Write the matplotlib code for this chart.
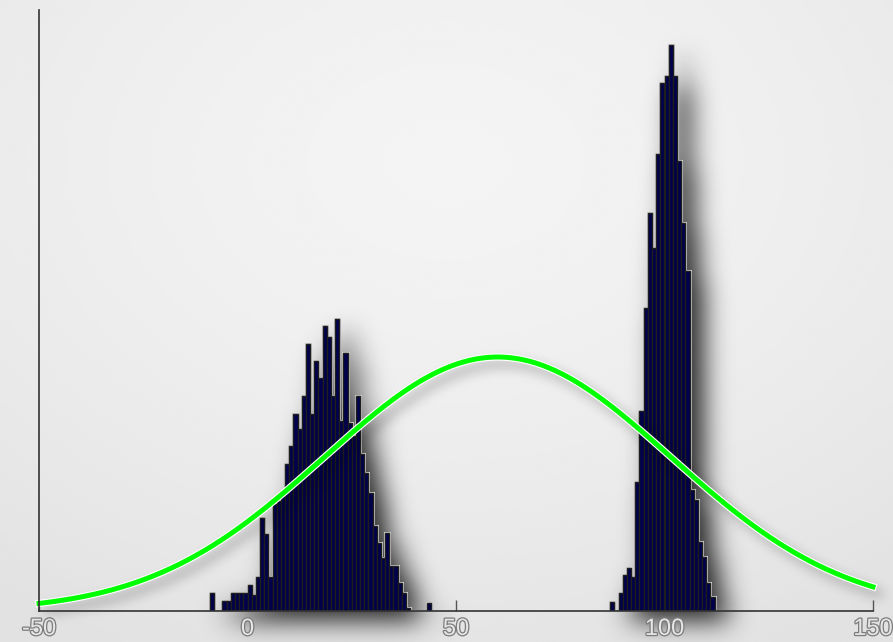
import numpy as np
import matplotlib
matplotlib.use("Agg")
import matplotlib.pyplot as plt
import matplotlib.patheffects as pe

# histogram bins (left edge, width 1) and counts
left_bins = np.arange(-9, 44)
left_counts = [18, 0, 0, 10, 10, 18, 18, 18, 18,
               26, 16, 34, 93, 77, 34, 107, 110, 115, 147,
               165, 197, 182, 215, 267, 197, 250, 233, 285, 274,
               215, 292, 190, 258, 188, 175, 215, 157, 138, 118,
               85, 68, 53, 78, 45, 45, 28, 18, 3, 0,
               0, 0, 0, 8]
right_bins = np.arange(87, 112)
right_counts = [9, 0, 18, 36, 43, 34, 129, 200, 303, 398,
                363, 457, 528, 535, 566, 535, 450, 388, 340, 121,
                111, 69, 54, 28, 14]

# fitted normal curve
fit_mean = 60.0
fit_std = 41.5
fit_peak = 254.0

tick_values = [-50, 0, 50, 100, 150]


def gauss_blur(a, sigma):
    r = int(3 * sigma)
    k = np.exp(-0.5 * (np.arange(-r, r + 1) / sigma) ** 2)
    k /= k.sum()
    a = np.apply_along_axis(lambda v: np.convolve(v, k, mode="same"), 0, a)
    a = np.apply_along_axis(lambda v: np.convolve(v, k, mode="same"), 1, a)
    return a


class DropShadow:
    def __init__(self, sigma, alpha, dx, dy):
        self.sigma, self.alpha, self.dx, self.dy = sigma, alpha, dx, dy

    def __call__(self, im, dpi):
        pad = int(3 * self.sigma) + max(abs(self.dx), abs(self.dy))
        a = np.pad(im[..., 3], pad)
        a = gauss_blur(a, self.sigma)
        a = np.roll(a, self.dx, axis=1)
        a = np.roll(a, self.dy, axis=0)
        out = np.zeros(a.shape + (4,))
        out[..., 3] = np.clip(a * self.alpha, 0, 1)
        return out, -pad, -pad


fig = plt.figure(figsize=(8.93, 6.42), dpi=100)

# soft grey background
bg = fig.add_axes([0, 0, 1, 1], zorder=-10)
yy, xx = np.mgrid[0:1:200j, 0:1:300j]
r = np.sqrt(((xx - 0.5) / 0.85) ** 2 + ((yy - 0.25) / 0.85) ** 2)
shade = 0.955 - 0.07 * np.clip(r, 0, 1) ** 1.5
bg.imshow(shade, cmap="gray", vmin=0, vmax=1, aspect="auto",
          extent=[0, 1, 0, 1], origin="upper", interpolation="bicubic")
bg.set_axis_off()

ax = fig.add_axes([39 / 893, 31 / 642, 834 / 893, 601 / 642])
ax.set_facecolor("none")

for bins, counts in [(left_bins, left_counts), (right_bins, right_counts)]:
    edges = np.append(bins, bins[-1] + 1)
    sh = ax.stairs(counts, edges, fill=True, color="black", zorder=1)
    sh.set_agg_filter(DropShadow(sigma=13, alpha=0.85, dx=14, dy=10))
    sh.set_clip_on(False)
    ax.stairs(counts, edges, fill=False, color="#c8c8c8", lw=2.2, zorder=2)
    ax.bar(bins, counts, width=1, align="edge", color="#00004c",
           edgecolor="#1e1e1e", linewidth=1.0, zorder=3)

xs = np.linspace(-50, 150, 400)
ys = fit_peak * np.exp(-0.5 * ((xs - fit_mean) / fit_std) ** 2)
ln_sh, = ax.plot(xs, ys, color="black", lw=3.5, zorder=4, clip_on=False)
ln_sh.set_agg_filter(DropShadow(sigma=6, alpha=0.4, dx=7, dy=7))
ax.plot(xs, ys, color="#00ff00", lw=3.6, zorder=5, clip_on=False,
        path_effects=[pe.Stroke(linewidth=5.2, foreground="white"), pe.Normal()])

ax.set_xlim(-50, 150)
ax.set_ylim(0, 601)
ax.set_yticks([])
ax.set_xticks(tick_values)
ax.set_xticklabels([str(v) for v in tick_values])
ax.tick_params(axis="x", direction="in", length=8, width=1, color="#555555", pad=5)
for lab in ax.get_xticklabels():
    lab.set_fontfamily(["Liberation Sans Narrow", "Liberation Sans", "DejaVu Sans"])
    lab.set_fontsize(17)
    lab.set_color("#e6e6e6")
    lab.set_path_effects([pe.Stroke(linewidth=1.8, foreground="#7c7c7c"), pe.Normal()])

for s in ["top", "right"]:
    ax.spines[s].set_visible(False)
for s in ["left", "bottom"]:
    ax.spines[s].set_color("#333333")
    ax.spines[s].set_linewidth(1.2)
    ax.spines[s].set_zorder(6)

fig.savefig("out.png", dpi=100)
